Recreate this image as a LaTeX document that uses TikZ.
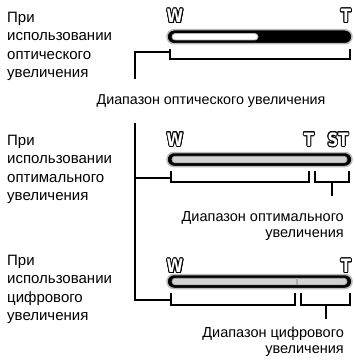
\documentclass[tikz,border=0pt]{standalone}
\usepackage{fontspec}
\setmainfont{Liberation Sans}
\newfontfamily\zf{DejaVu Sans Condensed}[FakeStretch=0.9]
\usepackage{contour}
\contourlength{0.9pt}
\begin{document}
\begin{tikzpicture}[x=1pt,y=-1pt,
  lbl/.style={font=\fontsize{15}{18.4}\selectfont, align=left, inner sep=0pt, anchor=north west},
  rlbl/.style={font=\fontsize{14.5}{16}\selectfont, align=right, inner sep=0pt, anchor=north east},
  zl/.style={font=\zf\bfseries\fontsize{18.5}{18.5}\selectfont, inner sep=0pt},
  bar/.style={minimum width=185pt, minimum height=14pt, rounded corners=7pt, fill=black, draw=gray!55, line width=1.5pt, inner sep=0pt},
  fillw/.style={minimum height=6.5pt, rounded corners=3.2pt, fill=white, draw=gray!60, line width=0.8pt, inner sep=0pt},
  fillg/.style={minimum height=6.5pt, rounded corners=3.2pt, fill=gray!35, draw=gray!65, line width=0.8pt, inner sep=0pt},
  ln/.style={line width=1.8pt, black},
]
\useasboundingbox (0,0) rectangle (354,361);
% ---------- left labels
\node[lbl] (l1) at (7,11.7) {При\\использовании\\оптического\\увеличения};
\node[lbl] (l2) at (7,134.7) {При\\использовании\\оптимального\\увеличения};
\node[lbl] (l3) at (7,254.7) {При\\использовании\\цифрового\\увеличения};
% ---------- row 1
\node[zl] (w1) at (175,16.5) {\contour{black}{\textcolor{white}{W}}};
\node[zl] (t1) at (346,16.5) {\contour{black}{\textcolor{white}{T}}};
\node[bar] (bar1) at (259.5,36.75) {};
\node[fillw, minimum width=86pt] (in1) at (215,36.75) {};
\coordinate (b1a) at (170,49); \coordinate (b1b) at (350,49);
\coordinate (b1j) at (170,52);
\coordinate (v1) at (135,79);
\draw[ln] (b1a) |- (350,59) -- (b1b);
\draw[ln] (v1) |- (b1j);
\node[font=\fontsize{14.3}{18}\selectfont, inner sep=0pt, anchor=base] (r1) at (211,104) {Диапазон оптического увеличения};
% ---------- row 2
\node[zl] (w2) at (175,140) {\contour{black}{\textcolor{white}{W}}};
\node[zl] (t2) at (309,140) {\contour{black}{\textcolor{white}{T}}};
\node[zl] (st2) at (338,140) {\contour{black}{\textcolor{white}{ST}}};
\node[bar] (bar2) at (259.5,159.5) {};
\node[fillg, minimum width=175pt] (in2) at (259.5,159.5) {};
\coordinate (b2a) at (171,171); \coordinate (b2b) at (309,171);
\coordinate (b2c) at (315,171); \coordinate (b2d) at (349,171);
\coordinate (b2j) at (171,178);
\coordinate (s2a) at (332,182); \coordinate (s2b) at (332,196);
\coordinate (v2) at (135,123);
\draw[ln] (b2a) |- (309,182) -- (b2b);
\draw[ln] (b2c) |- (349,182) -- (b2d);
\draw[ln] (s2a) -- (s2b);
\draw[ln] (v2) |- (b2j);
\node[rlbl] (r2) at (344,211.3) {Диапазон оптимального\\увеличения};
% ---------- row 3
\node[zl] (w3) at (175,266.5) {\contour{black}{\textcolor{white}{W}}};
\node[zl] (t3) at (346,266.5) {\contour{black}{\textcolor{white}{T}}};
\node[bar] (bar3) at (259.5,281.5) {};
\node[fillg, minimum width=175pt] (in3) at (259.5,281.5) {};
\draw[gray!65, line width=2pt] (297,278.2) -- (297,284.8);
\coordinate (b3a) at (171,293); \coordinate (b3b) at (295,293);
\coordinate (b3c) at (301,293); \coordinate (b3d) at (350,293);
\coordinate (b3j) at (171,300);
\coordinate (s3a) at (326,305); \coordinate (s3b) at (326,319);
\coordinate (v3) at (135,300);
\draw[ln] (b3a) |- (295,305) -- (b3b);
\draw[ln] (b3c) |- (350,305) -- (b3d);
\draw[ln] (s3a) -- (s3b);
\draw[ln] (v2) -- (v3) -- (b3j);
\node[rlbl] (r3) at (344,326.3) {Диапазон цифрового\\увеличения};
\end{tikzpicture}
\end{document}
